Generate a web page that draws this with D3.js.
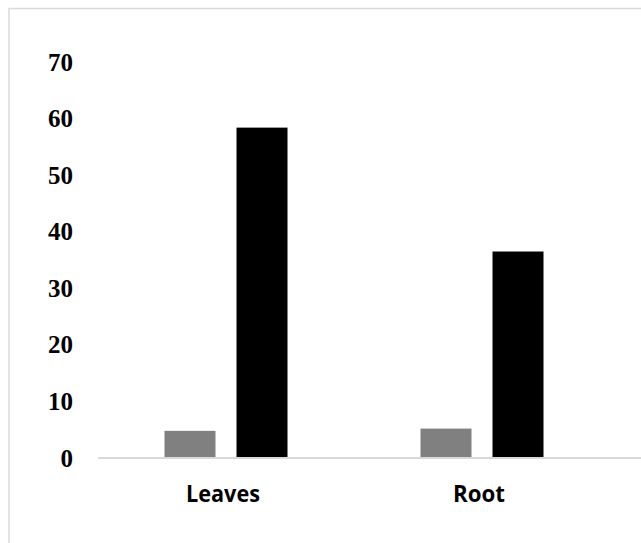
<!DOCTYPE html>
<html>
<head>
<meta charset="utf-8">
<script src="https://cdn.jsdelivr.net/npm/d3@7"></script>
<style>
  html, body { margin: 0; padding: 0; background: #fff; }
  svg { display: block; }
</style>
</head>
<body>
<svg id="chart" width="641" height="543"></svg>
<script>
// Tissue groups and the two measured series
const categories = ["Leaves", "Root"];
const seriesNames = ["low", "high"];
const lowValues = [4.8, 5.2];
const highValues = [58.4, 36.5];
const yTicks = [0, 10, 20, 30, 40, 50, 60, 70];
const seriesColors = ["#808080", "#000000"];

const rows = categories.map((c, i) => ({ category: c, values: [lowValues[i], highValues[i]] }));

const svg = d3.select("#chart");
const W = 641, H = 543;

// Chart frame (light grey outline)
svg.append("line").attr("x1", 9).attr("x2", W).attr("y1", 8.5).attr("y2", 8.5)
  .attr("stroke", "#d9d9d9").attr("stroke-width", 1.5);
svg.append("line").attr("x1", 9).attr("x2", 9).attr("y1", 8).attr("y2", H)
  .attr("stroke", "#d9d9d9").attr("stroke-width", 1.5);

const x0 = d3.scaleBand().domain(categories).range([98, 610]).paddingInner(0).paddingOuter(0);
const y = d3.scaleLinear().domain([0, 70]).range([458, 62]);

// Bars within each category: width 51, gap 21
const groupWidth = 123;
const x1 = d3.scaleBand().domain(seriesNames)
  .range([0, groupWidth]).paddingInner(21 / 72).paddingOuter(0);

const groups = svg.append("g").selectAll("g").data(rows).join("g")
  .attr("transform", d => `translate(${x0(d.category) + (x0.bandwidth() - groupWidth) / 2},0)`);

groups.selectAll("rect").data(d => d.values.map((v, i) => ({ key: seriesNames[i], v, i })))
  .join("rect")
  .attr("x", d => x1(d.key))
  .attr("width", x1.bandwidth())
  .attr("y", d => y(d.v))
  .attr("height", d => y(0) - y(d.v))
  .attr("fill", d => seriesColors[d.i]);

// Baseline
svg.append("line").attr("x1", 98).attr("x2", W).attr("y1", y(0)).attr("y2", y(0))
  .attr("stroke", "#d9d9d9").attr("stroke-width", 2);

// Value axis labels
const yAxis = d3.axisLeft(y).tickValues(yTicks).tickSize(0).tickPadding(0);
const yg = svg.append("g").attr("transform", "translate(73,0)").call(yAxis);
yg.select(".domain").remove();
yg.selectAll("text")
  .attr("font-family", "'Liberation Serif', 'Times New Roman', serif")
  .attr("font-weight", "bold")
  .attr("font-size", 25)
  .attr("fill", "#000");

// Category labels (narrow bold sans)
const labelWidths = { Leaves: 74, Root: 52 };
const xAxis = d3.axisBottom(x0).tickSize(0).tickPadding(0);
const xg = svg.append("g").attr("transform", "translate(-3,0)").call(xAxis);
xg.select(".domain").remove();
xg.selectAll("text")
  .attr("dy", null)
  .attr("y", 502)
  .attr("font-family", "'Open Sans', 'Noto Sans', sans-serif")
  .attr("font-weight", "bold")
  .attr("font-size", 24)
  .attr("textLength", d => labelWidths[d])
  .attr("lengthAdjust", "spacingAndGlyphs")
  .attr("fill", "#000");
</script>
</body>
</html>
